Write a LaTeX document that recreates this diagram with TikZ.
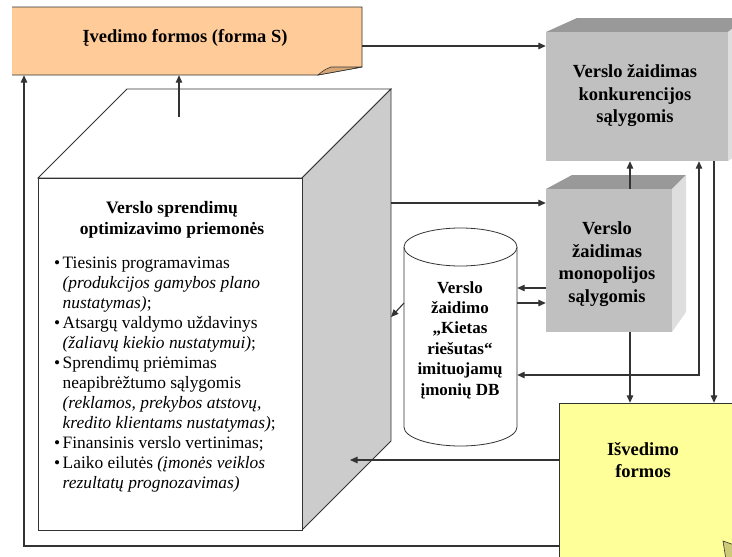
\documentclass[tikz,border=0pt]{standalone}
\usepackage{fontspec}
\setmainfont{Liberation Serif}
\usetikzlibrary{arrows.meta}

\definecolor{formorange}{HTML}{FFCC99}
\definecolor{formorangedark}{HTML}{D6A676}
\definecolor{formyellow}{HTML}{FFFF99}
\definecolor{formyellowdark}{HTML}{CDCB78}
\definecolor{boxfront}{HTML}{C0C0C0}
\definecolor{boxtop}{HTML}{999999}
\definecolor{boxside}{HTML}{DEDEDE}
\definecolor{cubeside}{HTML}{CCCCCC}
\definecolor{edge}{HTML}{333333}

\newcommand{\boxfont}{\fontsize{18.5}{22.5}\selectfont\bfseries}
\newcommand{\dbfont}{\fontsize{17}{20.4}\selectfont\bfseries}
\newcommand{\listfont}{\fontsize{17.4}{20}\selectfont}
\newcommand{\itm}{\makebox[8.5pt][l]{\textbullet}}
\newcommand{\ind}{\hspace*{8.5pt}}

\begin{document}
\begin{tikzpicture}[x=1pt,y=-1pt,
  area/.style={inner sep=0pt, draw=none},
  outline/.style={draw=edge, line width=0.8pt, line join=miter},
  conn/.style={draw=edge, line width=1.1pt},
  arr/.style={conn, -{Triangle[length=7.5pt,width=6.5pt]}},
  dbl/.style={conn, {Triangle[length=7.5pt,width=6.5pt]}-{Triangle[length=7.5pt,width=6.5pt]}},
  txt/.style={inner sep=0pt, align=center}]

\useasboundingbox (0,0) rectangle (732,557);
\fill[white] (0,0) rectangle (732,557);

% ---------- input form (folded corner note) ----------
\node[area, minimum width=350pt, minimum height=68pt] (inform) at (187,41) {};
\fill[formorange] (12,7) -- (362,7) -- (362,67) -- (318,75) -- (12,75) -- cycle;
\draw[outline] (12,7) -- (362,7) -- (362,67) -- (318,75) -- (12,75);
\filldraw[fill=formorangedark, draw=edge, line width=0.6pt]
  (318,75) .. controls (324,70) .. (331,67) -- (362,67) -- cycle;
\node[txt, font=\boxfont] (informlbl) at (185,38) {Įvedimo formos (forma S)};

% ---------- optimisation tools cube ----------
\node[area, minimum width=264pt, minimum height=352pt] (tools) at (170,354) {};
\filldraw[fill=white, outline] (38,178) -- (127,89) -- (391,89) -- (302,178) -- cycle;
\filldraw[fill=cubeside, outline] (302,178) -- (391,89) -- (391,441) -- (302,530) -- cycle;
\filldraw[fill=white, outline] (38,178) rectangle (302,530);
\node[txt, font=\fontsize{17.5}{21}\selectfont\bfseries] (toolstitle) at (172,220)
  {Verslo sprendimų\\optimizavimo priemonės};
\node[inner sep=0pt, align=left, anchor=north west, font=\listfont] (toolslist) at (54,257)
  {\itm Tiesinis programavimas\\
   \ind\textit{(produkcijos gamybos plano}\\
   \ind\textit{nustatymas)};\\
   \itm Atsargų valdymo uždavinys\\
   \ind\textit{(žaliavų kiekio nustatymui)};\\
   \itm Sprendimų priėmimas\\
   \ind neapibrėžtumo sąlygomis\\
   \ind\textit{(reklamos, prekybos atstovų,}\\
   \ind\textit{kredito klientams nustatymas)};\\
   \itm Finansinis verslo vertinimas;\\
   \itm Laiko eilutės \textit{(įmonės veiklos}\\
   \ind\textit{rezultatų prognozavimas)}};

% ---------- business game under competition ----------
\node[area, minimum width=182pt, minimum height=129pt] (konk) at (637,96.5) {};
\fill[boxtop] (546,32) -- (577,18) -- (760,18) -- (728,32) -- cycle;
\fill[boxside] (728,32) -- (745,18) -- (745,150) -- (728,161) -- cycle;
\fill[boxfront] (546,32) rectangle (728,161);
\node[txt, font=\boxfont] (konklbl) at (635,96)
  {Verslo žaidimas\\konkurencijos\\sąlygomis};

% ---------- business game under monopoly ----------
\node[area, minimum width=126pt, minimum height=143pt] (mono) at (609,260.5) {};
\fill[boxtop] (546,189) -- (572,175) -- (686,175) -- (672,189) -- cycle;
\fill[boxside] (672,189) -- (686,175) -- (686,312) -- (672,332) -- cycle;
\fill[boxfront] (546,189) rectangle (672,332);
\node[txt, font=\boxfont] (monolbl) at (607,264)
  {Verslo\\žaidimas\\monopolijos\\sąlygomis};

% ---------- simulated companies database ----------
\node[area, minimum width=113pt, minimum height=218pt] (db) at (460.5,337) {};
\filldraw[fill=white, outline] (404,247) -- (404,427)
  arc[start angle=180, end angle=360, x radius=56.5pt, y radius=19pt]
  -- (517,247);
\filldraw[fill=white, outline] (460.5,247) ellipse[x radius=56.5pt, y radius=19pt];
\node[txt, font=\dbfont] (dblbl) at (460,340)
  {Verslo\\žaidimo\\„Kietas\\riešutas“\\imituojamų\\įmonių DB};

% ---------- output forms (folded corner note) ----------
\node[area, minimum width=190pt, minimum height=180pt] (out) at (654,493) {};
\filldraw[fill=formyellow, outline] (559,403) -- (760,403) -- (760,590) -- (559,590) -- cycle;
\filldraw[fill=formyellowdark, draw=edge, line width=0.6pt]
  (723,541) -- (740,547) -- (728,575) .. controls (726,560) .. cycle;
\node[txt, font=\boxfont] (outlbl) at (643,460) {Išvedimo\\formos};

% ---------- connectors ----------
\coordinate (c1) at ([yshift=-5pt]inform.east);
\draw[arr] (c1) -- (c1 -| konk.west);

\coordinate (c2) at (179,117);
\draw[arr] (c2) -- (c2 |- inform.south);

\coordinate (c3) at (24,546);
\draw[arr] (c3 -| out.west) -- (c3) -- (c3 |- inform.south);

\coordinate (c4) at (350,460);
\draw[arr] (c4 -| out.west) -- (c4);

\coordinate (c5) at (391,203);
\draw[arr] (c5) -- (c5 -| mono.west);

\coordinate (c6a) at (404,303);
\coordinate (c6b) at (391,317);
\draw[arr] (c6a) -- (c6b);

\coordinate (c7) at (0,288);
\draw[arr] (c7 -| mono.west) -- (c7 -| db.east);
\coordinate (c8) at (0,303);
\draw[arr] (c8 -| db.east) -- (c8 -| mono.west);

\coordinate (c9) at (630,0);
\draw[arr] (c9 |- mono.north) -- (c9 |- konk.south);
\draw[arr] (c9 |- mono.south) -- (c9 |- out.north);

\coordinate (c10) at (699,375);
\draw[dbl] (c10 |- konk.south) -- (c10) -- (c10 -| db.east);

\coordinate (c11) at (714,0);
\draw[arr] (c11 |- konk.south) -- (c11 |- out.north);

\end{tikzpicture}
\end{document}
